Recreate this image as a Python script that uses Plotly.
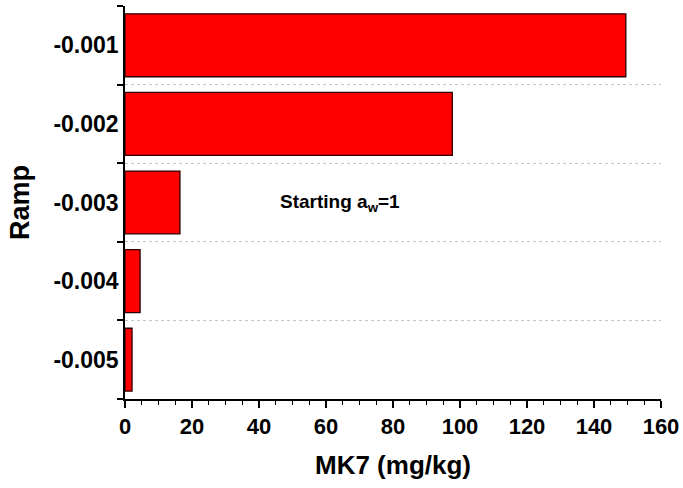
import plotly.graph_objects as go

ramps = ["-0.001", "-0.002", "-0.003", "-0.004", "-0.005"]
mk7 = [149.5, 97.7, 16.4, 4.5, 2.1]
x_ticks = [0, 20, 40, 60, 80, 100, 120, 140, 160]

FONT = "Liberation Sans, Arial, sans-serif"

order = ramps[::-1]

fig = go.Figure()
fig.add_trace(go.Bar(
    y=ramps, x=mk7, orientation="h",
    marker=dict(color="#ff0000", line=dict(color="#2a0000", width=1.3)),
    width=0.8,
))

fig.add_annotation(
    x=45.8, y=order.index(ramps[2]), xref="x", yref="y",
    text="<b>Starting a<sub>w</sub>=1</b>", showarrow=False,
    xanchor="left", yanchor="middle",
    font=dict(family=FONT, size=19, color="black"),
)

fig.update_layout(
    width=683, height=488,
    margin=dict(l=125, r=22, t=6, b=89, autoexpand=False),
    plot_bgcolor="white", paper_bgcolor="white",
    showlegend=False,
    font=dict(family=FONT, color="black"),
)

fig.update_xaxes(
    range=[0, 160], tickvals=x_ticks, automargin=False,
    tickprefix="<b>", ticksuffix="</b>",
    showline=True, linecolor="black", linewidth=1.5,
    ticks="outside", ticklen=7, tickwidth=1.5, tickcolor="black",
    minor=dict(dtick=5, ticks="outside", ticklen=4, tickwidth=1.2, tickcolor="black"),
    showgrid=False, zeroline=False,
    tickfont=dict(family=FONT, size=22, color="black", weight=700),
    title=dict(text="<b>MK7 (mg/kg)</b>", font=dict(family=FONT, size=26, color="black"), standoff=18),
)

fig.update_yaxes(
    type="category", categoryorder="array", categoryarray=order, automargin=False,
    tickvals=order, ticktext=["<b>" + r + "</b>" for r in order],
    tickson="boundaries",
    showline=True, linecolor="black", linewidth=1.5,
    ticks="outside", ticklen=6, tickwidth=1.5, tickcolor="black",
    showgrid=True, gridcolor="#c4c4c4", griddash="dot", gridwidth=1,
    tickfont=dict(family=FONT, size=23, color="black", weight=700),
    title=dict(text="<b>Ramp</b>", font=dict(family=FONT, size=27, color="black"), standoff=16),
)

fig.write_html("out.html")
